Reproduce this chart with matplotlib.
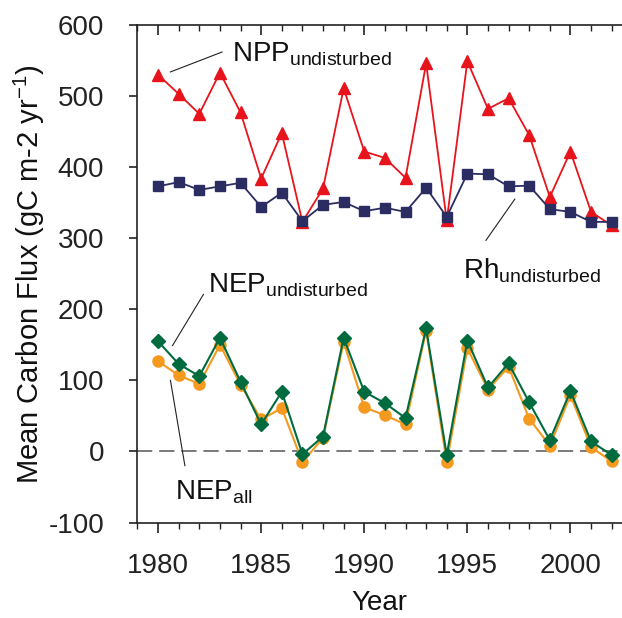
import matplotlib
matplotlib.use("Agg")
import matplotlib.pyplot as plt
from matplotlib.ticker import MultipleLocator

plt.rcParams["font.family"] = ["Liberation Sans", "DejaVu Sans"]
plt.rcParams["mathtext.fontset"] = "custom"
plt.rcParams["mathtext.rm"] = "Liberation Sans"
plt.rcParams["mathtext.it"] = "Liberation Sans"
plt.rcParams["axes.unicode_minus"] = False

years = list(range(1980, 2003))
npp = [530, 503, 475, 533, 477, 384, 448, 323, 370, 511, 422, 413, 385, 546,
       325, 549, 482, 497, 445, 358, 422, 337, 318]
rh = [373, 379, 368, 373, 378, 344, 364, 324, 347, 351, 338, 343, 337, 371,
      330, 391, 390, 373, 374, 341, 337, 323, 323]
nep_und = [155, 123, 106, 160, 98, 38, 84, -4, 21, 160, 84, 68, 47, 173,
           -5, 156, 90, 124, 69, 16, 85, 14, -5]
nep_all = [127, 107, 95, 150, 94, 45, 61, -15, 19, 154, 62, 51, 38, 170,
           -15, 145, 87, 119, 46, 8, 79, 6, -14]

fig = plt.figure(figsize=(6.22, 6.18), dpi=100)
ax = fig.add_axes([0.221, 0.1545, 0.779, 0.805])

ax.axhline(0, color="#555555", lw=1.1, dashes=(10, 4.5), zorder=1)

ax.plot(years, npp, color="#e8141c", lw=1.3, marker="^", ms=9, zorder=2)
ax.plot(years, rh, color="#2b2d62", lw=1.3, marker="s", ms=7, zorder=3)
ax.plot(years, nep_all, color="#f5991f", lw=1.5, marker="o", ms=8, zorder=4)
ax.plot(years, nep_und, color="#006b3f", lw=1.5, marker="D", ms=7, zorder=5)

# labels with leader lines
lab = dict(fontsize=20, color="#111111")
ax.text(1983.6, 549, r"NPP$_{\mathregular{undisturbed}}$", **lab)
ax.plot([1980.6, 1983.1], [534, 562], color="#222222", lw=0.8)
ax.text(1994.8, 244, r"Rh$_{\mathregular{undisturbed}}$", **lab)
ax.plot([1997.3, 1995.9], [355, 297], color="#222222", lw=0.8)
ax.text(1982.4, 223, r"NEP$_{\mathregular{undisturbed}}$", **lab)
ax.plot([1982.2, 1980.7], [221, 149], color="#222222", lw=0.8)
ax.text(1980.8, -68, r"NEP$_{\mathregular{all}}$", **lab)
ax.plot([1980.6, 1981.3], [100, -20], color="#222222", lw=0.8)

ax.set_xlim(1979, 2002.5)
ax.set_ylim(-100, 600)
ax.xaxis.set_major_locator(MultipleLocator(5))
ax.xaxis.set_minor_locator(MultipleLocator(1))
ax.yaxis.set_major_locator(MultipleLocator(100))

ax.spines["right"].set_visible(False)
for s in ["left", "bottom", "top"]:
    ax.spines[s].set_linewidth(1.2)
    ax.spines[s].set_color("#222222")

ax.tick_params(axis="x", which="both", top=True, labelsize=20, colors="#222222")
ax.tick_params(axis="x", which="major", direction="out", length=7, width=1.2, pad=15)
ax.tick_params(axis="x", which="minor", direction="out", length=4, width=1.0)
ax.tick_params(axis="y", which="major", direction="out", length=6, width=1.2,
               pad=18, labelsize=20, colors="#222222")
# top ticks point inward
for t in ax.xaxis.get_major_ticks():
    t.tick2line.set_marker(3)
    t.tick2line.set_markersize(7)
for t in ax.xaxis.get_minor_ticks():
    t.tick2line.set_marker(3)
    t.tick2line.set_markersize(4)

ax.set_xlabel("Year", fontsize=20, color="#111111")
ax.xaxis.set_label_coords(0.5, -0.136)
ax.set_ylabel(r"Mean Carbon Flux (gC m-2 yr$^{\mathregular{-1}}$)", fontsize=21,
              color="#111111")
ax.yaxis.set_label_coords(-0.186, 0.5)

fig.savefig("out.png", dpi=100)
